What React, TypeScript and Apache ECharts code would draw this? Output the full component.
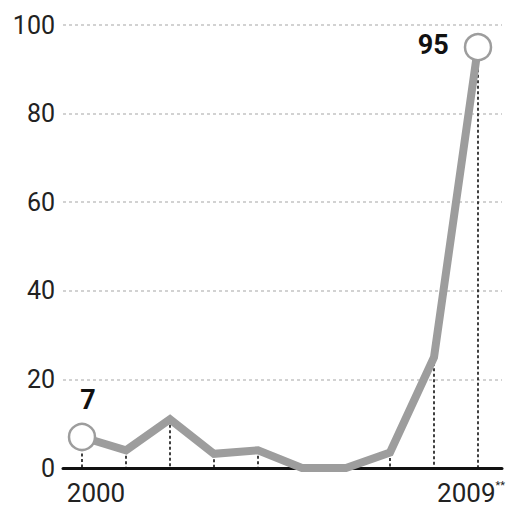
import React, { useEffect, useRef } from "react";
import * as echarts from "echarts";

const years = [2000, 2001, 2002, 2003, 2004, 2005, 2006, 2007, 2008, 2009];
const values = [7, 4, 11, 3.2, 4, 0, 0, 3.5, 25, 95];
const yTicks = [0, 20, 40, 60, 80, 100];
const xLabelYears = [2000, 2009];
const xLabelTexts = ["2000", "2009**"];

export default function App() {
  const ref = useRef<HTMLDivElement>(null);
  useEffect(() => {
    if (!ref.current) return;
    const chart = echarts.init(ref.current, null, { renderer: "svg" });
    const last = years.length - 1;
    const lineData = years.map((y, i) => {
      const item: any = { value: [y, values[i]] };
      if (i === 0 || i === last) {
        item.symbol = "circle";
        item.symbolSize = 26;
        item.label = {
          show: true,
          formatter: String(values[i]),
          fontFamily: "Roboto, 'Liberation Sans', sans-serif",
          fontWeight: "bold",
          fontSize: 27,
          color: "#111",
          position: i === 0 ? "top" : "left",
          distance: i === 0 ? 9 : 15,
          offset: i === 0 ? [6, 0] : [0, -2],
        };
      } else {
        item.symbol = "none";
      }
      return item;
    });
    chart.setOption({
      animation: false,
      grid: { left: 63, right: 19, top: 25, bottom: 41, containLabel: false },
      xAxis: {
        type: "value",
        min: years[0] - 19 / 44,
        max: years[last] + 24 / 44,
        axisLine: { show: true, onZero: true, lineStyle: { color: "#111", width: 3 } },
        axisTick: { show: false },
        splitLine: { show: false },
        axisLabel: {
          customValues: xLabelYears,
          margin: 12,
          formatter: (v: number) => {
            const idx = xLabelYears.indexOf(Math.round(v));
            const t = idx >= 0 ? xLabelTexts[idx] : "";
            if (t.endsWith("**")) return "{a|" + t.slice(0, -2) + "}{s|**}{p|}";
            return "{l|}{a|" + t + "}";
          },
          rich: {
            a: { fontSize: 26, color: "#222", fontFamily: "Roboto, 'Liberation Sans', sans-serif" },
            s: { fontSize: 11, color: "#222", verticalAlign: "top", fontFamily: "Roboto, 'Liberation Sans', sans-serif" },
            l: { width: 28 },
            p: { width: 14 },
          },
        },
      },
      yAxis: {
        type: "value",
        min: yTicks[0],
        max: yTicks[yTicks.length - 1],
        interval: 20,
        axisLine: { show: false },
        axisTick: { show: false },
        axisLabel: {
          margin: 8,
          fontSize: 25,
          color: "#222",
          fontFamily: "Roboto, 'Liberation Sans', sans-serif",
        },
        splitLine: {
          show: true,
          lineStyle: { color: "#c4c4c4", width: 1.5, type: [3, 3] },
        },
      },
      series: [
        {
          type: "custom",
          z: 1,
          silent: true,
          clip: false,
          data: years.map((y, i) => [y, values[i]]),
          renderItem: (params: any, api: any) => {
            const x = api.value(0);
            const v = api.value(1);
            const p1 = api.coord([x, v]);
            const p0 = api.coord([x, 0]);
            return {
              type: "line",
              shape: { x1: p1[0], y1: p1[1], x2: p0[0], y2: p0[1] },
              style: { stroke: "#111", lineWidth: 1.6, lineDash: [3, 2.5] },
            };
          },
        },
        {
          type: "line",
          z: 3,
          clip: false,
          data: lineData,
          showSymbol: true,
          lineStyle: { color: "#9d9d9d", width: 8, join: "miter" },
          itemStyle: { color: "#ffffff", borderColor: "#9d9d9d", borderWidth: 2.5 },
          emphasis: { disabled: true },
        },
      ],
    });
    return () => chart.dispose();
  }, []);
  return (
    <div
      ref={ref}
      style={{ position: "fixed", left: 0, top: 0, width: 521, height: 509, background: "#fff" }}
    />
  );
}
